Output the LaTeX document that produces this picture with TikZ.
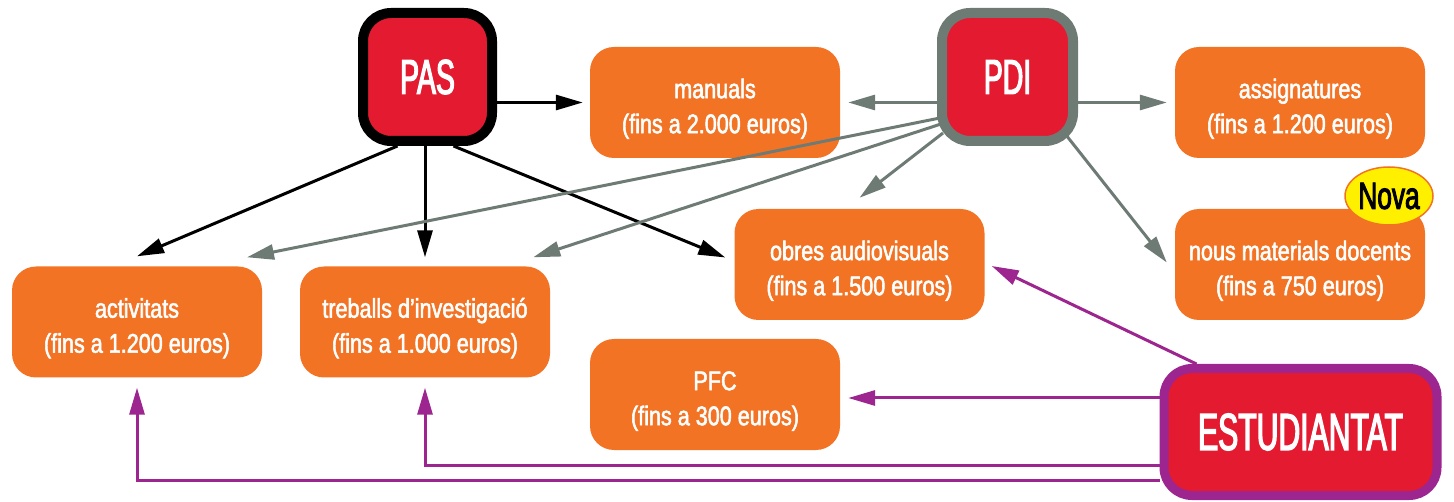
\documentclass[tikz,border=0pt]{standalone}
\usepackage{fontspec}
\setmainfont{Liberation Sans}
\newfontfamily\condA[FakeStretch=0.80,FakeBold=2]{Liberation Sans}
\newfontfamily\condB[FakeStretch=0.58,FakeBold=2.5]{Liberation Sans}
\newfontfamily\condC[FakeStretch=0.69,FakeBold=2.5]{Liberation Sans}
\newcommand{\topstrut}{\rule{0pt}{32pt}}
\usetikzlibrary{arrows.meta,shapes.geometric}
\definecolor{cred}{HTML}{E31A30}
\definecolor{corange}{HTML}{F37324}
\definecolor{cgrey}{HTML}{6E7B75}
\definecolor{cpurple}{HTML}{9C258F}
\definecolor{cyellow}{HTML}{FFF000}
\begin{document}
\begin{tikzpicture}[x=1pt,y=-1pt,
 obox/.style={fill=corange, rounded corners=24pt, minimum width=250pt, minimum height=111pt, text=white, align=center, font=\condA\fontsize{27}{35}\selectfont, inner sep=0pt},
 rbox/.style={fill=cred, line width=10pt, rounded corners=28pt, text=white, inner sep=0pt},
 arr/.style={line width=3pt, -{Triangle[length=27pt,width=15pt]}},
 barr/.style={arr, draw=black},
 garr/.style={arr, draw=cgrey},
 parr/.style={arr, draw=cpurple},
]
\useasboundingbox (0,0) rectangle (1454,502);
% orange boxes
\node[obox] (man) at (715,102.5) {\topstrut manuals\\(fins a 2.000 euros)};
\node[obox] (asg) at (1300,102.5) {\topstrut assignatures\\(fins a 1.200 euros)};
\node[obox] (obr) at (859.5,264.5) {\topstrut obres audiovisuals\\(fins a 1.500 euros)};
\node[obox] (nou) at (1300,264.5) {\topstrut nous materials docents\\(fins a 750 euros)};
\node[obox] (act) at (137,322) {\topstrut activitats\\(fins a 1.200 euros)};
\node[obox] (tre) at (425,322) {\topstrut treballs d’investigació\\(fins a 1.000 euros)};
\node[obox] (pfc) at (715,394.5) {\topstrut PFC\\(fins a 300 euros)};
% red boxes
\node[rbox, draw=black, minimum width=129pt, minimum height=128pt, font=\condB\fontsize{49}{50}\selectfont] (pas) at (427.5,77) {PAS};
\node[rbox, draw=cgrey, minimum width=131pt, minimum height=128pt, font=\condB\fontsize{49}{50}\selectfont] (pdi) at (1007.5,77) {PDI};
\node[rbox, draw=cpurple, line width=9pt, minimum width=273pt, minimum height=127pt, font=\condB\fontsize{52}{54}\selectfont] (est) at (1300.5,432) {ESTUDIANTAT};
% Nova
\node[ellipse, fill=cyellow, draw=corange, line width=1.5pt, minimum width=88pt, minimum height=58pt, inner sep=0pt, font=\condC\fontsize{38}{40}\selectfont] (nova) at (1389,196) {Nova};
% PAS arrows
\draw[barr] (pas.east |- man.west) -- ([xshift=-7pt]man.west);
\draw[barr] ([xshift=-30pt]pas.south) -- ([yshift=10pt]act.north);
\draw[barr] (pas.south -| tre.north) -- ([yshift=9pt]tre.north);
\draw[barr] ([xshift=26pt]pas.south) -- ([xshift=-9pt,yshift=7pt]obr.west);
% PDI arrows
\draw[garr] (pdi.west |- man.east) -- ([xshift=8pt]man.east);
\draw[garr] (pdi.east |- asg.west) -- ([xshift=-8pt]asg.west);
\draw[garr] ([xshift=3pt,yshift=-41pt]pdi.west) -- ([xshift=110pt,yshift=9pt]act.north);
\draw[garr] ([xshift=4pt,yshift=-47pt]pdi.west) -- ([xshift=-17pt,yshift=9pt]tre.north east);
\draw[garr] ([xshift=6pt,yshift=13pt]pdi.south west) -- ([yshift=11pt]obr.north);
\draw[garr] ([xshift=-12pt,yshift=11pt]pdi.south east) -- ([xshift=-8pt,yshift=2pt]nou.west);
% ESTUDIANTAT arrows
\draw[parr] ([xshift=37pt]est.north west) -- ([xshift=7pt,yshift=-1.5pt]obr.east);
\draw[parr, shorten >=8pt] ([yshift=34pt]est.west) -- ([yshift=34pt]est.west -| pfc.east);
\draw[parr] ([yshift=-33pt]est.west) -| ([yshift=-10pt]tre.south);
\draw[parr] ([yshift=-48pt]est.west) -| ([yshift=-10pt]act.south);
\end{tikzpicture}
\end{document}
